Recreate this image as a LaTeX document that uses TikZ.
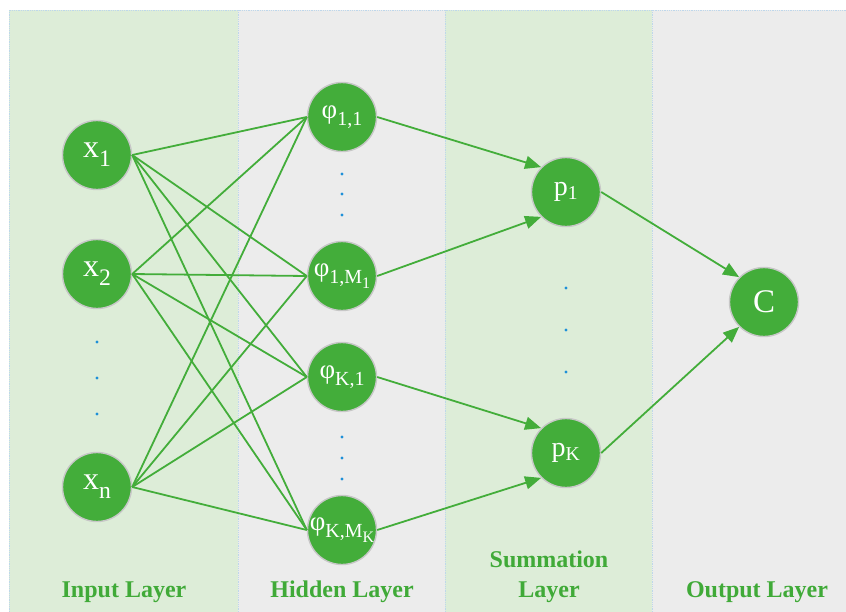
\documentclass[tikz,border=0pt]{standalone}
\usepackage{fontspec}
\setmainfont{Liberation Serif}
\usetikzlibrary{arrows.meta}
\definecolor{nodegreen}{RGB}{67,173,58}
\definecolor{bandgreen}{RGB}{221,237,216}
\definecolor{bandgray}{RGB}{236,236,236}
\definecolor{bandline}{RGB}{190,215,235}
\definecolor{dotblue}{RGB}{30,144,216}
\definecolor{labelgreen}{RGB}{64,170,56}
\newcommand\lowsub[1]{\raisebox{-0.28em}{\scalebox{0.74}{#1}}}
\newcommand\lowersub[1]{\raisebox{-0.25em}{\scalebox{0.8}{#1}}}

\begin{document}
\begin{tikzpicture}[x=1pt,y=1pt,
	neuron/.style={circle,fill=nodegreen,draw=black!22,line width=1.4pt,minimum size=69pt,inner sep=0pt,text=white,font=\fontsize{30}{32}\selectfont},
	link/.style={nodegreen,line width=1.8pt},
	arr/.style={link,-{Triangle[length=16pt,width=13pt]}},
	band/.style={draw=bandline,densely dotted,line width=0.8pt},
	layer/.style={text=labelgreen,font=\fontsize{24}{30}\selectfont\bfseries,align=center}]
	\useasboundingbox (0,0) rectangle (846,-611);
	% background columns
	\filldraw[band,fill=bandgreen] (9,-10) rectangle (238,-620);
	\filldraw[band,fill=bandgray] (238,-10) rectangle (445,-620);
	\filldraw[band,fill=bandgreen] (445,-10) rectangle (652,-620);
	\filldraw[band,fill=bandgray] (652,-10) rectangle (860,-620);
	% input layer
	\node[neuron,font=\fontsize{32}{34}\selectfont] (x1) at (97,-155) {x\lowsub{1}};
	\node[neuron,font=\fontsize{32}{34}\selectfont] (x2) at (97,-274) {x\lowsub{2}};
	\node[neuron,font=\fontsize{32}{34}\selectfont] (xn) at (97,-487) {x\lowsub{n}};
	% hidden layer
	\node[neuron,font=\fontsize{27}{30}\selectfont] (phi11) at (342,-117) {φ\lowsub{1,1}};
	\node[neuron,font=\fontsize{27}{30}\selectfont] (phi1M) at (342,-276) {φ\lowsub{1,M\lowersub{1}}};
	\node[neuron,font=\fontsize{27}{30}\selectfont] (phiK1) at (342,-377) {φ\lowsub{K,1}};
	\node[neuron,font=\fontsize{27}{30}\selectfont] (phiKM) at (342,-530) {φ\lowsub{K,M\lowersub{K}}};
	% summation layer
	\node[neuron,font=\fontsize{28}{30}\selectfont] (p1) at (566,-192) {p\textsubscript{1}};
	\node[neuron,font=\fontsize{28}{30}\selectfont] (pK) at (566,-453) {p\textsubscript{K}};
	% output layer
	\node[neuron,font=\fontsize{33}{35}\selectfont] (C) at (764,-302) {C};
	% dots
	\foreach \y in {342,378,414} \fill[dotblue] (97,-\y) circle (1.7);
	\foreach \y in {174,194,215,437,458,479} \fill[dotblue] (342,-\y) circle (1.7);
	\foreach \y in {288,330,372} \fill[dotblue] (566,-\y) circle (1.7);
	% connections
	\foreach \a in {x1,x2,xn}
		\foreach \b in {phi11,phi1M,phiK1,phiKM}
			\draw[link] (\a.east) -- (\b.west);
	\draw[arr] (phi11.east) -- (p1.135);
	\draw[arr] (phi1M.east) -- (p1.225);
	\draw[arr] (phiK1.east) -- (pK.135);
	\draw[arr] (phiKM.east) -- (pK.225);
	\draw[arr] (p1.east) -- (C.135);
	\draw[arr] (pK.east) -- (C.225);
	% layer names
	\node[layer] (inlab) at (124,-592) {Input Layer};
	\node[layer] (hidlab) at (342,-592) {Hidden Layer};
	\node[layer] (sumlab) at (549,-577) {Summation\\Layer};
	\node[layer] (outlab) at (757,-592) {Output Layer};
\end{tikzpicture}
\end{document}
